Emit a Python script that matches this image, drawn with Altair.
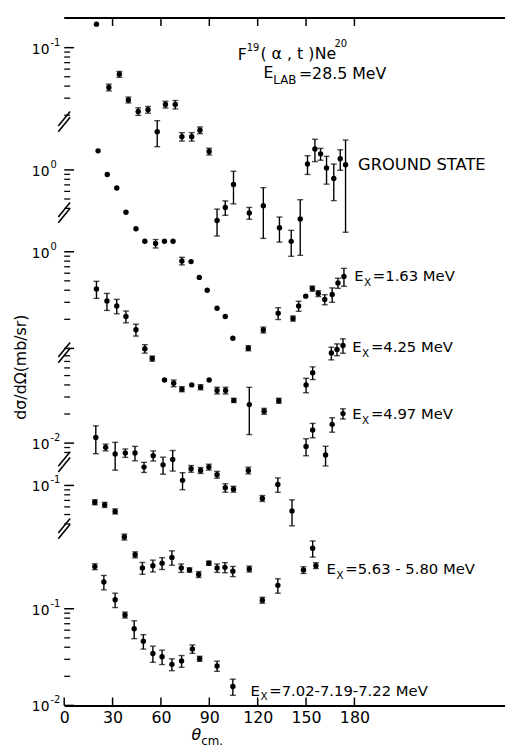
import math
import altair as alt
import pandas as pd

FONT = "DejaVu Sans"

# ---- broken log axis: labelled decades (exponent, height in decades above the bottom) ----
AXIS_EXP = [-1, 0, 0, -2, -1, -1, -2]
AXIS_POS = [6.806, 5.541, 4.694, 2.714, 2.276, 1.0, 0.0]
# segments of the axis that carry log ticks: (anchor index, low, high)
SEGMENTS = [(0, 6.10, 7.05), (1, 5.14, 5.55), (2, 3.69, 4.70),
            (3, 2.60, 3.63), (4, 1.87, 2.28), (5, 0.0, 1.0)]
BREAKS = [6.04, 5.10, 3.65, 2.52, 1.83]
X_TICKS = [0, 30, 60, 90, 120, 150, 180]

# ---- data: angle (deg, c.m.), dsigma/dOmega (mb/sr), relative error ----
SERIES = ["GROUND STATE", "1.63", "4.25", "4.97", "5.63-5.80", "7.02-7.19-7.22"]
SERIES_ANCHOR = [0, 1, 2, 3, 4, 5]

gs_angle = [20.0, 27.7, 34.2, 39.8, 45.9, 52.0, 57.7, 62.8, 68.9, 73.0, 79.1, 84.2, 89.9, 94.8,
            99.9, 105.0, 114.8, 123.5, 133.5, 140.8, 146.4, 150.9, 155.5, 159.0, 162.7, 167.2, 171.2, 174.5]
gs_value = [0.175, 0.0388, 0.053, 0.0288, 0.0219, 0.0228, 0.0135, 0.0258, 0.0258, 0.0120, 0.0120, 0.0140,
            0.00842, 0.00163, 0.00222, 0.00384, 0.00195, 0.00231, 0.00137, 0.00099, 0.00169, 0.00625,
            0.00895, 0.00796, 0.00569, 0.00443, 0.00708, 0.00615]
gs_err = [0, 0.08, 0.07, 0.07, 0.09, 0.08, 0.3, 0.08, 0.1, 0.1, 0.1, 0.08, 0.08, 0.31, 0.17, 0.37,
          0.14, 0.54, 0.29, 0.3, 0.58, 0.22, 0.26, 0.14, 0.32, 0.41, 0.24, 0.8]

e163_angle = [21.0, 26.7, 32.6, 38.3, 44.5, 50.0, 56.7, 62.2, 67.5, 73.0, 78.7, 83.8, 88.7, 94.8,
              99.9, 104.6, 114.2, 123.5, 132.7, 141.9, 145.4, 149.8, 153.9, 157.6, 161.6, 166.2, 169.8, 173.5]
e163_value = [1.574, 0.895, 0.651, 0.364, 0.246, 0.183, 0.173, 0.183, 0.183, 0.1143, 0.1125, 0.0772,
              0.0569, 0.0370, 0.0304, 0.0181, 0.0143, 0.0221, 0.0329, 0.0290, 0.0391, 0.0494, 0.0592,
              0.0526, 0.0457, 0.0514, 0.0676, 0.0791]
e163_err = [0, 0, 0, 0, 0, 0, 0.1, 0, 0, 0.09, 0, 0, 0, 0, 0, 0, 0.06, 0.07, 0.14, 0.06, 0.12, 0,
            0.06, 0.07, 0.12, 0.17, 0.12, 0.21]

e425_angle = [20.0, 26.5, 32.6, 38.3, 44.5, 50.0, 54.6, 62.2, 67.9, 73.0, 79.1, 84.6, 89.9, 94.8,
              100.1, 105.2, 114.8, 124.0, 133.1, 150.0, 154.1, 165.7, 169.2, 172.9]
e425_value = [0.412, 0.309, 0.275, 0.214, 0.156, 0.0993, 0.0785, 0.0471, 0.0436, 0.0379, 0.0419, 0.0397,
              0.0471, 0.0367, 0.0367, 0.0290, 0.0262, 0.0224, 0.0288, 0.0419, 0.0560, 0.0895, 0.0977, 0.1073]
e425_err = [0.2, 0.2, 0.17, 0.14, 0.14, 0.1, 0.06, 0, 0.08, 0.06, 0, 0.06, 0, 0.08, 0.08, 0.05, 0.51,
            0.07, 0.06, 0.17, 0.15, 0.15, 0.14, 0.17]

e497_angle = [19.6, 25.7, 31.6, 37.9, 43.9, 49.5, 55.2, 61.3, 67.3, 73.4, 78.7, 84.6, 89.7, 94.8,
              99.9, 105.0, 114.2, 122.9, 132.5, 141.3, 150.0, 154.1, 162.1, 166.2, 172.9]
e497_value = [0.01143, 0.00904, 0.00772, 0.00791, 0.00791, 0.00565, 0.00742, 0.00596, 0.00676, 0.00412,
              0.00543, 0.00522, 0.00565, 0.00472, 0.00345, 0.00334, 0.00522, 0.00268, 0.00373, 0.00199,
              0.00925, 0.01367, 0.00754, 0.01563, 0.0202]
e497_err = [0.32, 0.08, 0.32, 0.1, 0.17, 0.12, 0.12, 0.2, 0.24, 0.2, 0.08, 0.07, 0.07, 0.08, 0.1, 0.07,
            0.08, 0.07, 0.17, 0.3, 0.2, 0.17, 0.23, 0.17, 0.12]

e563_angle = [19.0, 25.1, 31.6, 37.3, 44.0, 48.5, 55.0, 60.7, 66.8, 72.6, 77.7, 83.4, 89.7, 94.8,
              99.7, 104.6, 114.8, 122.9, 132.5, 148.4, 154.1, 156.1]
e563_value = [0.0671, 0.0630, 0.0539, 0.0293, 0.0192, 0.0140, 0.0148, 0.0157, 0.0180, 0.0140, 0.01335,
              0.0120, 0.0157, 0.0140, 0.0142, 0.01295, 0.01367, 0.0065, 0.00925, 0.01335, 0.0224, 0.0148]
e563_err = [0.06, 0.06, 0.06, 0.07, 0.07, 0.14, 0.14, 0.14, 0.17, 0.1, 0.05, 0.07, 0.05, 0.1, 0.12,
            0.12, 0.07, 0.07, 0.17, 0.08, 0.19, 0.07]

e702_angle = [19.0, 24.6, 31.6, 37.7, 43.4, 49.1, 55.0, 60.7, 66.8, 72.8, 79.5, 84.0, 94.8, 104.6]
e702_value = [0.273, 0.189, 0.124, 0.0863, 0.0621, 0.0461, 0.0345, 0.0319, 0.0266, 0.0288, 0.0384,
              0.0304, 0.0256, 0.0157]
e702_err = [0.07, 0.17, 0.17, 0.07, 0.21, 0.17, 0.19, 0.17, 0.14, 0.14, 0.1, 0.06, 0.12, 0.19]

ANGLES = [gs_angle, e163_angle, e425_angle, e497_angle, e563_angle, e702_angle]
VALUES = [gs_value, e163_value, e425_value, e497_value, e563_value, e702_value]
ERRORS = [gs_err, e163_err, e425_err, e497_err, e563_err, e702_err]


def ypos(anchor, v):
    return AXIS_POS[anchor] + math.log10(v) - AXIS_EXP[anchor]


rows = []
for name, anc, angs, vals, errs in zip(SERIES, SERIES_ANCHOR, ANGLES, VALUES, ERRORS):
    for a, v, r in zip(angs, vals, errs):
        rows.append({"series": name, "angle": a, "value": v, "r": r,
                     "pos": ypos(anc, v), "lo": ypos(anc, v * (1 - r)), "hi": ypos(anc, v * (1 + r))})
df = pd.DataFrame(rows)

tick_rows = []
for anc, lo, hi in SEGMENTS:
    for e in range(AXIS_EXP[anc] - 3, AXIS_EXP[anc] + 3):
        for k in range(1, 10):
            p = AXIS_POS[anc] + (e - AXIS_EXP[anc]) + math.log10(k)
            if lo - 1e-6 <= p <= hi + 1e-6:
                tick_rows.append({"pos": p, "major": k == 1})
ticks_df = pd.DataFrame(tick_rows)

labels_df = pd.DataFrame({"pos": AXIS_POS, "base": ["10"] * len(AXIS_POS),
                          "exp": [str(e) for e in AXIS_EXP]})
brk_rows = []
for b in BREAKS:
    for off in (-0.03, 0.03):
        brk_rows.append({"y1": b + off - 0.075, "y2": b + off + 0.075})
brk_df = pd.DataFrame(brk_rows)
xt_df = pd.DataFrame({"angle": X_TICKS})
dummy = pd.DataFrame({"a": [0]})

W, H = 447, 697
yscale = alt.Scale(domain=[0, 7.112], nice=False, zero=False)
xscale = alt.Scale(domain=[0, W / 1.635], nice=False, zero=False)
x_enc = alt.X("angle:Q", scale=xscale,
              axis=alt.Axis(values=X_TICKS, ticks=False, grid=False, domain=True, domainColor="black",
                            domainWidth=2, labelFont=FONT, labelFontSize=16, labelColor="black",
                            labelPadding=4, labelFlush=False, title=None))
y_enc = alt.Y("pos:Q", scale=yscale,
              axis=alt.Axis(labels=False, ticks=False, grid=False, domain=True, domainColor="black",
                            domainWidth=2, title=None))

base = alt.Chart(df)
err_f = "datum.r > 0"
bars = base.mark_rule(color="black", strokeWidth=1.4).encode(
    x=x_enc, y=alt.Y("lo:Q", scale=yscale, axis=None), y2="hi:Q").transform_filter(err_f)
cap_hi = base.mark_tick(orient="horizontal", size=6, thickness=1.4, color="black").encode(
    x=x_enc, y=alt.Y("hi:Q", scale=yscale, axis=None)).transform_filter(err_f)
cap_lo = base.mark_tick(orient="horizontal", size=6, thickness=1.4, color="black").encode(
    x=x_enc, y=alt.Y("lo:Q", scale=yscale, axis=None)).transform_filter(err_f)
pts = base.mark_circle(size=30, color="black", opacity=1).encode(x=x_enc, y=y_enc)

yt_major = alt.Chart(ticks_df).transform_filter("datum.major").mark_rule(
    color="black", strokeWidth=1.5).encode(y=y_enc, x=alt.value(0), x2=alt.value(10))
yt_minor = alt.Chart(ticks_df).transform_filter("!datum.major").mark_rule(
    color="black", strokeWidth=1.3).encode(y=y_enc, x=alt.value(0), x2=alt.value(6))
brk = alt.Chart(brk_df).mark_rule(color="black", strokeWidth=1.6).encode(
    y=alt.Y("y1:Q", scale=yscale, axis=None), y2="y2:Q", x=alt.value(-6), x2=alt.value(6))
ylab = alt.Chart(labels_df).mark_text(align="right", baseline="middle", font=FONT, fontSize=14,
                                      dy=2, color="black").encode(
    y=y_enc, x=alt.value(-15), text="base:N")
yexp = alt.Chart(labels_df).mark_text(align="left", baseline="middle", font=FONT, fontSize=10,
                                      dy=-5, color="black").encode(
    y=y_enc, x=alt.value(-14), text="exp:N")

xt_bot = alt.Chart(xt_df).mark_rule(color="black", strokeWidth=1.5).encode(
    x=x_enc, y=alt.value(H), y2=alt.value(H - 8))
xt_top = alt.Chart(xt_df).transform_filter("datum.angle > 0").mark_rule(
    color="black", strokeWidth=1.5).encode(x=x_enc, y=alt.value(0), y2=alt.value(8))
top_line = alt.Chart(dummy).mark_rule(color="black", strokeWidth=2).encode(
    x=alt.value(0), x2=alt.value(W), y=alt.value(0))


def txt(s, x, y, size, **kw):
    return alt.Chart(dummy).mark_text(text=s, align="left", baseline="alphabetic", font=FONT,
                                      fontSize=size, color="black", **kw).encode(
        x=alt.value(x), y=alt.value(y))


def ex_label(rest, x, y):
    return [txt("E", x, y, 15), txt("X", x + 10, y + 5, 10.5), txt(rest, x + 19, y, 15)]


texts = [
    txt("F", 176, 42, 16), txt("19", 185, 33, 10), txt("( α , t )", 199, 41, 16),
    txt("Ne", 254, 41, 16), txt("20", 274, 29, 10),
    txt("E", 202, 61, 16), txt("LAB", 212, 67, 12), txt("=28.5 MeV", 238, 62, 16),
    txt("GROUND STATE", 298, 154, 16.5),
    *ex_label("=1.63 MeV", 294, 267),
    *ex_label("=4.25 MeV", 292, 339),
    *ex_label("=4.97 MeV", 292, 407),
    *ex_label("=5.63 - 5.80 MeV", 266, 564),
    *ex_label("=7.02-7.19-7.22 MeV", 189, 687),
    txt("θ", 129, 732, 16, fontStyle="italic"), txt("cm.", 139, 737, 12),
    alt.Chart(dummy).mark_text(text="dσ/dΩ(mb/sr)", align="center", baseline="middle", angle=270,
                               font=FONT, fontSize=16, color="black").encode(
        x=alt.value(-44), y=alt.value(354)),
]

chart = alt.layer(
    top_line, xt_bot, xt_top, yt_major, yt_minor, brk, ylab, yexp,
    bars, cap_hi, cap_lo, pts, *texts
).properties(
    width=W, height=H,
    autosize=alt.AutoSizeParams(type="none"),
    padding={"left": 57, "top": 5, "right": 0, "bottom": 40},
    background="white",
).configure_view(stroke=None)

chart.save("out.html", embed_options={"renderer": "svg", "actions": False})
